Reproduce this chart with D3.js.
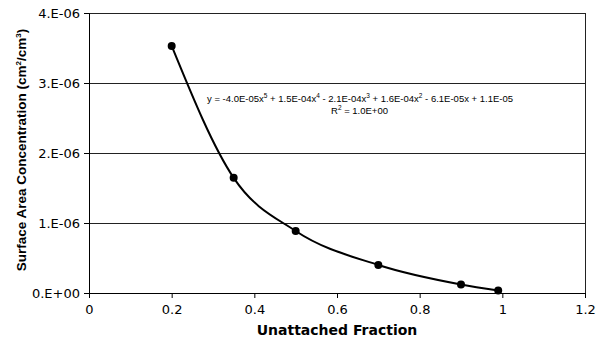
<!DOCTYPE html>
<html lang="en">
<head>
<meta charset="UTF-8">
<title>Surface Area Concentration vs Unattached Fraction</title>
<script src="https://d3js.org/d3.v7.min.js"></script>
<style>
  body { margin: 0; background: #fff; }
  .tick text { font-family: "DejaVu Sans", Verdana, sans-serif; font-size: 13px; fill: #000; }
  .grid line { stroke: #222; stroke-width: 1; }
</style>
</head>
<body>
<svg width="600" height="355"></svg>
<script>
// data
const fraction = [0.2, 0.35, 0.5, 0.7, 0.9, 0.99];
const concentration = [3.53e-6, 1.645e-6, 0.886e-6, 0.40e-6, 0.122e-6, 0.035e-6];
const xTicks = [0, 0.2, 0.4, 0.6, 0.8, 1, 1.2];
const xTickLabels = ["0", "0.2", "0.4", "0.6", "0.8", "1", "1.2"];
const yTicks = [0, 1e-6, 2e-6, 3e-6, 4e-6];
const yTickLabels = ["0.E+00", "1.E-06", "2.E-06", "3.E-06", "4.E-06"];

const svg = d3.select("svg");
const margin = { top: 13, right: 15, bottom: 62, left: 89 };
const W = 600, H = 355;
const iw = W - margin.left - margin.right;
const ih = H - margin.top - margin.bottom;

const x = d3.scaleLinear().domain([0, 1.2]).range([0, iw]);
const y = d3.scaleLinear().domain([0, 4e-6]).range([ih, 0]);

const g = svg.append("g").attr("transform", `translate(${margin.left},${margin.top})`);

// horizontal gridlines
g.append("g").attr("class", "grid")
  .selectAll("line")
  .data(yTicks.slice(1))
  .enter().append("line")
  .attr("x1", 0).attr("x2", iw)
  .attr("y1", d => Math.round(y(d)) + 0.5)
  .attr("y2", d => Math.round(y(d)) + 0.5);

// right border
g.append("line")
  .attr("x1", iw + 0.5).attr("x2", iw + 0.5)
  .attr("y1", 0).attr("y2", ih)
  .attr("stroke", "#222");

// axes
const xAxis = g.append("g")
  .attr("transform", `translate(0,${ih})`)
  .call(d3.axisBottom(x).tickValues(xTicks)
    .tickFormat((d, i) => xTickLabels[i]).tickSize(5).tickPadding(7));
const yAxis = g.append("g")
  .call(d3.axisLeft(y).tickValues(yTicks)
    .tickFormat((d, i) => yTickLabels[i]).tickSize(5).tickPadding(4));
[xAxis, yAxis].forEach(a => {
  a.select(".domain").attr("stroke", "#000");
  a.selectAll(".tick line").attr("stroke", "#000");
});
yAxis.selectAll(".tick text").attr("dy", "0.35em");

// trendline through the points
const pts = fraction.map((f, i) => [f, concentration[i]]);
g.append("path")
  .datum(pts)
  .attr("fill", "none")
  .attr("stroke", "#000")
  .attr("stroke-width", 2)
  .attr("d", d3.line().x(d => x(d[0])).y(d => y(d[1])).curve(d3.curveMonotoneX));

g.selectAll(".dot")
  .data(pts)
  .enter().append("circle")
  .attr("class", "dot")
  .attr("cx", d => x(d[0]))
  .attr("cy", d => y(d[1]))
  .attr("r", 4)
  .attr("fill", "#000");

// text with superscripts
function supText(sel, parts, shift, supSize) {
  let up = false;
  parts.forEach(p => {
    const t = sel.append("tspan").text(p[0]);
    if (up) { t.attr("dy", shift); up = false; }
    if (p[1]) {
      sel.append("tspan").attr("dy", -shift).attr("font-size", supSize).text(p[1]);
      up = true;
    }
  });
}
const eq = svg.append("text")
  .attr("x", 207).attr("y", 102)
  .attr("font-family", "Liberation Sans, Arial, sans-serif")
  .attr("font-size", 9.5)
  .attr("fill", "#000");
supText(eq, [
  ["y = -4.0E-05x", "5"], [" + 1.5E-04x", "4"], [" - 2.1E-04x", "3"],
  [" + 1.6E-04x", "2"], [" - 6.1E-05x + 1.1E-05", null]
], 4, 6.5);

const r2 = svg.append("text")
  .attr("x", 331).attr("y", 114)
  .attr("font-family", "Liberation Sans, Arial, sans-serif")
  .attr("font-size", 9.5)
  .attr("fill", "#000");
supText(r2, [["R", "2"], [" = 1.0E+00", null]], 4, 6.5);

// axis titles
svg.append("text")
  .attr("x", margin.left + iw / 2).attr("y", 335)
  .attr("text-anchor", "middle")
  .attr("font-family", "DejaVu Sans, Verdana, sans-serif")
  .attr("font-weight", "bold")
  .attr("font-size", 14)
  .text("Unattached Fraction");

const yt = svg.append("text")
  .attr("transform", "translate(26,150) rotate(-90)")
  .attr("text-anchor", "middle")
  .attr("font-family", "Liberation Sans, Arial, sans-serif")
  .attr("font-weight", "bold")
  .attr("font-size", 13.5);
supText(yt, [["Surface Area Concentration (cm", "2"], ["/cm", "3"], [")", null]], 5, 8);
</script>
</body>
</html>
